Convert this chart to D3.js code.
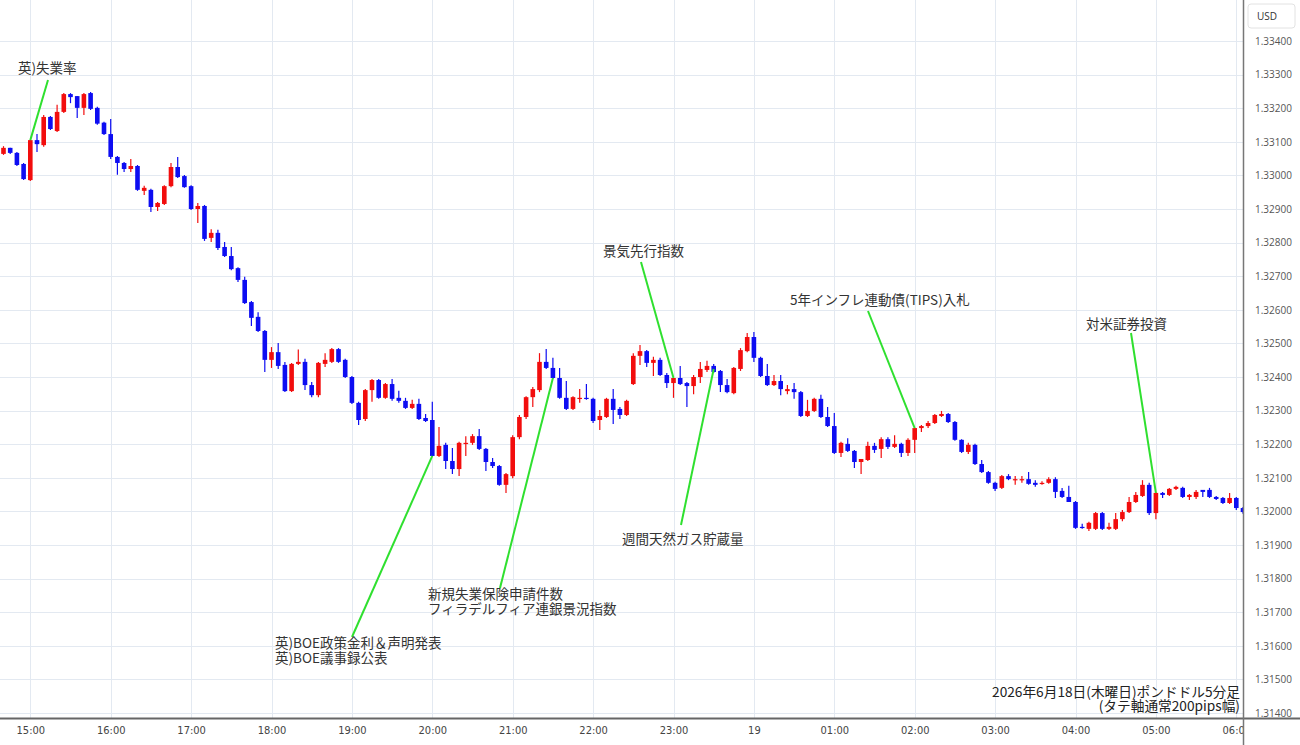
<!DOCTYPE html>
<html>
<head>
<meta charset="utf-8">
<script src="https://cdn.jsdelivr.net/npm/d3@7"></script>
<style>
  body { margin: 0; background: #fff; }
  .chart text { font-family: "Noto Sans CJK JP", "Noto Sans", sans-serif; }
</style>
</head>
<body>
<div class="chart"></div>
<script>
var svgWidth = 1300;
var svgHeight = 745;
var plotRight = 1243;
var plotBottom = 718;

// GBP/USD 5 minute candles, 14:40 -> 06:05
var startTime = new Date(2026, 5, 18, 14, 40);

var open = [
  1.33064,1.33082,1.33067,1.33034,1.32986,1.33105,1.33090,1.33174,1.33132,1.33189,
  1.33242,1.33236,1.33201,1.33245,1.33201,1.33157,1.33123,1.33055,1.33037,1.33019,
  1.33028,1.32954,1.32957,1.32906,1.32915,1.32968,1.33025,1.32998,1.32968,1.32900,
  1.32909,1.32814,1.32829,1.32787,1.32760,1.32724,1.32689,1.32623,1.32579,1.32537,
  1.32451,1.32474,1.32436,1.32358,1.32439,1.32445,1.32376,1.32346,1.32439,1.32445,
  1.32483,1.32451,1.32400,1.32323,1.32275,1.32361,1.32391,1.32338,1.32379,1.32338,
  1.32329,1.32308,1.32320,1.32278,1.32272,1.32165,1.32198,1.32150,1.32126,1.32201,
  1.32204,1.32224,1.32186,1.32147,1.32135,1.32079,1.32105,1.32221,1.32281,1.32340,
  1.32361,1.32445,1.32427,1.32397,1.32338,1.32305,1.32335,1.32338,1.32335,1.32272,
  1.32281,1.32335,1.32305,1.32287,1.32379,1.32463,1.32477,1.32442,1.32451,1.32406,
  1.32382,1.32397,1.32382,1.32373,1.32400,1.32421,1.32433,1.32418,1.32376,1.32352,
  1.32424,1.32477,1.32519,1.32457,1.32403,1.32376,1.32388,1.32358,1.32364,1.32355,
  1.32284,1.32299,1.32335,1.32281,1.32254,1.32174,1.32201,1.32180,1.32147,1.32153,
  1.32195,1.32186,1.32215,1.32192,1.32201,1.32174,1.32213,1.32248,1.32254,1.32263,
  1.32284,1.32290,1.32266,1.32213,1.32177,1.32198,1.32141,1.32117,1.32085,1.32070,
  1.32105,1.32093,1.32093,1.32096,1.32085,1.32082,1.32085,1.32096,1.32061,1.32043,
  1.32028,1.31954,1.31948,1.31948,1.31995,1.31948,1.31948,1.31977,1.31998,1.32028,
  1.32046,1.32079,1.31995,1.32055,1.32049,1.32067,1.32070,1.32043,1.32043,1.32064,
  1.32064,1.32043,1.32040,1.32025,1.32040,1.32010
];
var high = [
  1.33087,1.33082,1.33070,1.33037,1.33105,1.33123,1.33180,1.33177,1.33210,1.33245,
  1.33245,1.33236,1.33245,1.33248,1.33204,1.33160,1.33168,1.33058,1.33040,1.33049,
  1.33031,1.32969,1.32960,1.32921,1.32971,1.33037,1.33055,1.33001,1.32971,1.32918,
  1.32912,1.32840,1.32838,1.32802,1.32787,1.32727,1.32698,1.32626,1.32593,1.32540,
  1.32489,1.32501,1.32445,1.32442,1.32482,1.32454,1.32385,1.32445,1.32471,1.32486,
  1.32486,1.32454,1.32403,1.32326,1.32364,1.32394,1.32394,1.32382,1.32394,1.32359,
  1.32338,1.32332,1.32335,1.32290,1.32326,1.32251,1.32204,1.32189,1.32207,1.32224,
  1.32230,1.32245,1.32189,1.32159,1.32138,1.32114,1.32227,1.32287,1.32343,1.32370,
  1.32471,1.32483,1.32457,1.32427,1.32388,1.32343,1.32364,1.32379,1.32338,1.32302,
  1.32338,1.32364,1.32311,1.32332,1.32471,1.32495,1.32480,1.32460,1.32457,1.32412,
  1.32397,1.32433,1.32385,1.32406,1.32445,1.32448,1.32439,1.32421,1.32394,1.32430,
  1.32486,1.32531,1.32534,1.32460,1.32439,1.32406,1.32406,1.32376,1.32382,1.32358,
  1.32332,1.32338,1.32347,1.32311,1.32293,1.32207,1.32218,1.32183,1.32156,1.32207,
  1.32204,1.32221,1.32221,1.32227,1.32204,1.32218,1.32248,1.32257,1.32269,1.32290,
  1.32299,1.32293,1.32269,1.32215,1.32204,1.32201,1.32153,1.32120,1.32088,1.32108,
  1.32111,1.32105,1.32105,1.32117,1.32093,1.32090,1.32102,1.32102,1.32070,1.32076,
  1.32031,1.31963,1.31969,1.31998,1.31998,1.31966,1.31995,1.32004,1.32043,1.32058,
  1.32093,1.32085,1.32058,1.32058,1.32070,1.32076,1.32073,1.32052,1.32064,1.32064,
  1.32070,1.32046,1.32043,1.32055,1.32043,1.32013
];
var low = [
  1.33061,1.33064,1.33028,1.32986,1.32983,1.33070,1.33085,1.33135,1.33129,1.33186,
  1.33215,1.33171,1.33180,1.33195,1.33151,1.33120,1.33049,1.33002,1.33010,1.33010,
  1.32954,1.32942,1.32891,1.32894,1.32912,1.32965,1.32992,1.32963,1.32897,1.32858,
  1.32805,1.32802,1.32778,1.32757,1.32718,1.32683,1.32617,1.32552,1.32534,1.32415,
  1.32427,1.32424,1.32355,1.32355,1.32436,1.32361,1.32340,1.32340,1.32430,1.32442,
  1.32442,1.32397,1.32320,1.32257,1.32269,1.32326,1.32335,1.32335,1.32329,1.32323,
  1.32305,1.32305,1.32272,1.32266,1.32162,1.32162,1.32126,1.32111,1.32105,1.32165,
  1.32198,1.32183,1.32120,1.32129,1.32076,1.32055,1.32099,1.32215,1.32275,1.32311,
  1.32355,1.32424,1.32394,1.32335,1.32302,1.32302,1.32323,1.32332,1.32263,1.32242,
  1.32278,1.32260,1.32275,1.32284,1.32376,1.32436,1.32430,1.32403,1.32403,1.32367,
  1.32338,1.32376,1.32311,1.32349,1.32382,1.32415,1.32412,1.32355,1.32352,1.32349,
  1.32418,1.32474,1.32445,1.32400,1.32373,1.32373,1.32346,1.32349,1.32335,1.32281,
  1.32281,1.32296,1.32278,1.32251,1.32171,1.32162,1.32177,1.32129,1.32111,1.32150,
  1.32174,1.32159,1.32186,1.32189,1.32162,1.32165,1.32174,1.32236,1.32248,1.32260,
  1.32281,1.32263,1.32210,1.32174,1.32171,1.32138,1.32114,1.32082,1.32061,1.32067,
  1.32093,1.32079,1.32085,1.32079,1.32073,1.32079,1.32082,1.32040,1.32040,1.32028,
  1.31948,1.31948,1.31942,1.31945,1.31945,1.31945,1.31945,1.31971,1.31995,1.32025,
  1.32043,1.31989,1.31977,1.32040,1.32046,1.32064,1.32040,1.32034,1.32037,1.32043,
  1.32040,1.32034,1.32022,1.32022,1.32004,1.31993
];
var close = [
  1.33082,1.33067,1.33031,1.32989,1.33105,1.33093,1.33174,1.33138,1.33189,1.33242,
  1.33233,1.33201,1.33242,1.33198,1.33154,1.33123,1.33055,1.33037,1.33019,1.33028,
  1.32957,1.32963,1.32906,1.32918,1.32968,1.33025,1.32995,1.32965,1.32900,1.32909,
  1.32811,1.32829,1.32784,1.32760,1.32721,1.32689,1.32620,1.32576,1.32537,1.32451,
  1.32474,1.32433,1.32358,1.32439,1.32445,1.32376,1.32346,1.32442,1.32451,1.32483,
  1.32445,1.32400,1.32323,1.32272,1.32361,1.32391,1.32338,1.32379,1.32335,1.32329,
  1.32308,1.32320,1.32275,1.32269,1.32165,1.32195,1.32150,1.32126,1.32204,1.32204,
  1.32224,1.32186,1.32147,1.32135,1.32079,1.32111,1.32221,1.32281,1.32340,1.32364,
  1.32445,1.32427,1.32397,1.32338,1.32305,1.32340,1.32338,1.32335,1.32269,1.32284,
  1.32335,1.32302,1.32287,1.32329,1.32463,1.32477,1.32442,1.32451,1.32406,1.32382,
  1.32397,1.32379,1.32373,1.32400,1.32424,1.32433,1.32415,1.32376,1.32355,1.32427,
  1.32480,1.32519,1.32457,1.32403,1.32376,1.32388,1.32364,1.32364,1.32355,1.32284,
  1.32299,1.32335,1.32281,1.32254,1.32174,1.32204,1.32180,1.32147,1.32156,1.32195,
  1.32183,1.32215,1.32192,1.32201,1.32174,1.32213,1.32248,1.32254,1.32263,1.32287,
  1.32290,1.32266,1.32213,1.32177,1.32198,1.32141,1.32117,1.32085,1.32067,1.32105,
  1.32096,1.32096,1.32096,1.32082,1.32079,1.32085,1.32096,1.32058,1.32043,1.32028,
  1.31951,1.31951,1.31966,1.31995,1.31948,1.31954,1.31977,1.31998,1.32028,1.32049,
  1.32079,1.31995,1.32055,1.32049,1.32067,1.32073,1.32043,1.32049,1.32058,1.32058,
  1.32043,1.32037,1.32025,1.32040,1.32010,1.31998
];

// x axis labels, one per hour
var hourLabels = ["15:00","16:00","17:00","18:00","19:00","20:00","21:00","22:00",
  "23:00","19","01:00","02:00","03:00","04:00","05:00","06:00"];

// price ticks
var priceTicks = [1.314,1.315,1.316,1.317,1.318,1.319,1.320,1.321,1.322,1.323,
  1.324,1.325,1.326,1.327,1.328,1.329,1.330,1.331,1.332,1.333,1.334];

// events: label lines, candle index it points to, price at that point
var eventLabels = [
  ["英)失業率"],
  ["英)BOE政策金利＆声明発表", "英)BOE議事録公表"],
  ["新規失業保険申請件数", "フィラデルフィア連銀景況指数"],
  ["景気先行指数"],
  ["週間天然ガス貯蔵量"],
  ["5年インフレ連動債(TIPS)入札"],
  ["対米証券投資"]
];
var eventCandle = [4, 64, 82, 100, 106, 136, 172];
var eventPrice = [1.33105, 1.32165, 1.32397, 1.32397, 1.32424, 1.32248, 1.32055];

var candles = open.map(function(o, i) {
  return {
    time: d3.timeMinute.offset(startTime, 5 * i),
    open: o, high: high[i], low: low[i], close: close[i]
  };
});

var svg = d3.select(".chart")
  .append("svg")
  .attr("width", svgWidth)
  .attr("height", svgHeight)
  .style("display", "block");

svg.append("rect")
  .attr("width", svgWidth)
  .attr("height", svgHeight)
  .attr("fill", "#fff");

// Scales
var xScale = d3.scaleTime()
  .domain([startTime, candles[candles.length - 1].time])
  .range([3.5, plotRight]);

var yScale = d3.scaleLinear()
  .domain([1.314, 1.334])
  .range([713, 41]);

var hourTimes = hourLabels.map(function(d, i) {
  return d3.timeHour.offset(new Date(2026, 5, 18, 15, 0), i);
});

var defs = svg.append("defs");
defs.append("clipPath")
  .attr("id", "plotClip")
  .append("rect")
  .attr("width", plotRight)
  .attr("height", plotBottom);
defs.append("clipPath")
  .attr("id", "axisClip")
  .append("rect")
  .attr("x", -10)
  .attr("width", plotRight + 10)
  .attr("height", 40);

// Grid
var grid = svg.append("g").attr("clip-path", "url(#plotClip)");

grid.selectAll(".hgrid")
  .data(priceTicks)
  .enter()
  .append("line")
  .attr("x1", 0)
  .attr("x2", plotRight)
  .attr("y1", d => Math.round(yScale(d)) + 0.5)
  .attr("y2", d => Math.round(yScale(d)) + 0.5)
  .attr("stroke", "#e3e9f1")
  .attr("stroke-width", 1);

grid.selectAll(".vgrid")
  .data(hourTimes)
  .enter()
  .append("line")
  .attr("x1", d => Math.round(xScale(d)) + 0.5)
  .attr("x2", d => Math.round(xScale(d)) + 0.5)
  .attr("y1", 0)
  .attr("y2", plotBottom)
  .attr("stroke", "#e3e9f1")
  .attr("stroke-width", 1);

// Candles
var candleGroup = svg.append("g").attr("clip-path", "url(#plotClip)");
var bodyWidth = 4.6;

function candleColor(d) {
  return d.close >= d.open ? "#f20d0d" : "#0d0df2";
}

candleGroup.selectAll(".wick")
  .data(candles)
  .enter()
  .append("line")
  .attr("x1", d => xScale(d.time))
  .attr("x2", d => xScale(d.time))
  .attr("y1", d => yScale(d.high))
  .attr("y2", d => yScale(d.low))
  .attr("stroke", candleColor)
  .attr("stroke-width", 1.2);

candleGroup.selectAll(".body")
  .data(candles)
  .enter()
  .append("rect")
  .attr("x", d => xScale(d.time) - bodyWidth / 2)
  .attr("width", bodyWidth)
  .attr("y", d => yScale(Math.max(d.open, d.close)))
  .attr("height", d => Math.max(1.2, Math.abs(yScale(d.open) - yScale(d.close))))
  .attr("fill", candleColor);

// Event annotations
var textPos = [[18, 73], [275, 648], [428, 599], [603, 256], [622, 544], [790, 305], [1086, 329]];
var lineStart = [[48, 80], [352, 637], [500, 588], [641, 262], [681, 525], [868, 311], [1131, 333]];

eventLabels.forEach(function(lines, i) {
  svg.append("line")
    .attr("x1", lineStart[i][0])
    .attr("y1", lineStart[i][1])
    .attr("x2", xScale(candles[eventCandle[i]].time))
    .attr("y2", yScale(eventPrice[i]))
    .attr("stroke", "#2fe02f")
    .attr("stroke-width", 2);

  lines.forEach(function(s, j) {
    svg.append("text")
      .attr("x", textPos[i][0])
      .attr("y", textPos[i][1] + j * 15)
      .attr("font-size", "13.5px")
      .attr("fill", "#333")
      .text(s);
  });
});

// Caption, bottom right
var captionLines = ["2026年6月18日(木曜日)ポンドドル5分足", "(タテ軸通常200pips幅)"];
captionLines.forEach(function(s, j) {
  svg.append("text")
    .attr("x", 1240)
    .attr("y", 697 + j * 14)
    .attr("text-anchor", "end")
    .attr("font-size", "13.7px")
    .attr("fill", "#222")
    .text(s);
});

// Axes
var bottomAxis = d3.axisBottom(xScale)
  .tickValues(hourTimes)
  .tickFormat((d, i) => hourLabels[i])
  .tickSize(0)
  .tickPadding(8);

var xAxisGroup = svg.append("g")
  .attr("transform", `translate(0, ${plotBottom})`)
  .attr("clip-path", "url(#axisClip)")
  .call(bottomAxis);

xAxisGroup.select(".domain").remove();
xAxisGroup.selectAll("text")
  .attr("font-size", "11px")
  .attr("fill", "#444")
  .style("font-family", "'Liberation Sans Narrow', 'DejaVu Sans Condensed', sans-serif");

var rightAxis = d3.axisRight(yScale)
  .tickValues(priceTicks)
  .tickFormat(d3.format(".5f"))
  .tickSize(0)
  .tickPadding(12);

var yAxisGroup = svg.append("g")
  .attr("transform", `translate(${plotRight}, 0)`)
  .call(rightAxis);

yAxisGroup.select(".domain").remove();
yAxisGroup.selectAll("text")
  .attr("font-size", "10px")
  .attr("fill", "#555")
  .style("font-family", "'Open Sans', sans-serif");

// Axis lines
svg.append("line")
  .attr("x1", 0).attr("x2", svgWidth)
  .attr("y1", plotBottom + 0.5).attr("y2", plotBottom + 0.5)
  .attr("stroke", "#666").attr("stroke-width", 2);

svg.append("line")
  .attr("x1", plotRight + 0.5).attr("x2", plotRight + 0.5)
  .attr("y1", 0).attr("y2", svgHeight)
  .attr("stroke", "#777").attr("stroke-width", 1.5);

// USD box
svg.append("rect")
  .attr("x", 1248).attr("y", 4)
  .attr("width", 47).attr("height", 24)
  .attr("rx", 3)
  .attr("fill", "#fff")
  .attr("stroke", "#e2e2e2");

svg.append("text")
  .attr("x", 1267).attr("y", 20)
  .attr("text-anchor", "middle")
  .attr("font-size", "10px")
  .attr("fill", "#333")
  .style("font-family", "'Open Sans', sans-serif")
  .text("USD");
</script>
</body>
</html>
